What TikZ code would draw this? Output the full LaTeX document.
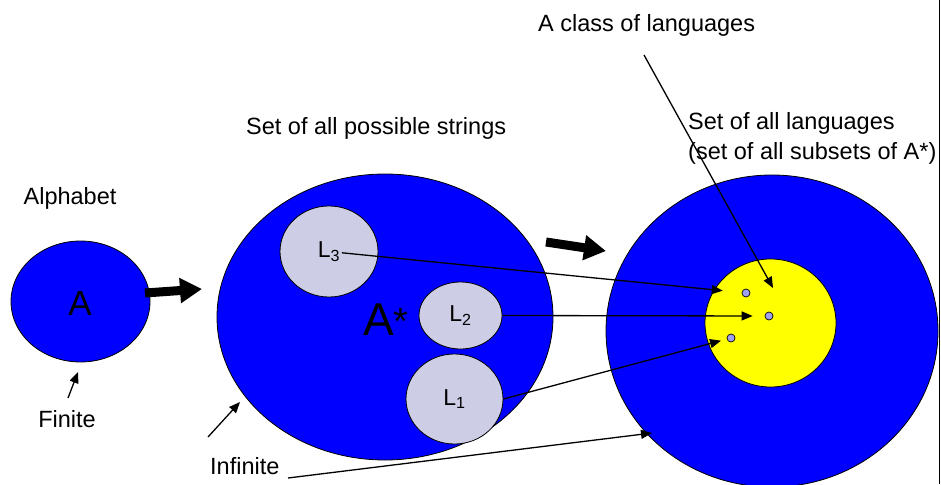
\documentclass[tikz,border=0pt]{standalone}
\usepackage{fontspec}
\setmainfont{Liberation Sans}
\usetikzlibrary{arrows.meta,shapes.geometric}
\definecolor{setblue}{HTML}{0000FF}
\definecolor{clsyel}{HTML}{FFFF00}
\definecolor{langfill}{HTML}{CDCDE6}
\definecolor{dotfill}{HTML}{A0A0F0}
\tikzset{
  blob/.style={ellipse, draw=black, line width=0.8pt, fill=setblue, inner sep=0pt},
  lang/.style={ellipse, draw=black, line width=0.8pt, fill=langfill, inner sep=0pt,
               font=\fontsize{23}{26}\selectfont},
  ldot/.style={circle, draw=black, line width=0.7pt, fill=dotfill, minimum size=8pt, inner sep=0pt},
  lbl/.style={font=\fontsize{23.5}{30}\selectfont, inner sep=0pt},
  ptr/.style={-{Triangle[length=11pt,width=9pt]}, line width=1.3pt},
  fat/.style={-{Triangle[length=22pt,width=24pt]}, line width=9pt},
}

\begin{document}
\begin{tikzpicture}[x=1pt, y=-1pt]
  \useasboundingbox (0,0) rectangle (941,484);
  % the three sets
  \node[blob, minimum width=139pt, minimum height=121pt] (alph) at (80.5,301.5) {};
  \node[blob, minimum width=336pt, minimum height=286pt] (strs) at (385,317) {};
  \node[blob, minimum width=332pt, minimum height=312pt] (langs) at (772,331) {};
  \node[ellipse, draw=black, line width=0.8pt, fill=clsyel, inner sep=0pt,
        minimum width=131pt, minimum height=128pt] (cls) at (770.5,323) {};
  \node[font=\fontsize{35}{35}\selectfont] (asym) at (80,303) {A};
  \node[font=\fontsize{46}{46}\selectfont] (astar) at (386,320) {A\raisebox{1pt}{\fontsize{38}{38}\selectfont*}};
  % languages inside A*
  \node[lang, minimum width=98pt, minimum height=91pt] (l3) at (329,251.5) {L\textsubscript{3}};
  \node[lang, minimum width=83pt, minimum height=67pt] (l2) at (460.5,315.5) {L\textsubscript{2}};
  \node[lang, minimum width=97pt, minimum height=90pt] (l1) at (454.5,399) {L\textsubscript{1}};
  \node[ldot] (d3) at (746,293) {};
  \node[ldot] (d2) at (769,316) {};
  \node[ldot] (d1) at (731,338) {};
  % labels
  \node[lbl] (alphl) at (70,198) {Alphabet};
  \node[lbl] (finl) at (67,419) {Finite};
  \node[lbl, anchor=base west] (strl) at (246,135) {Set of all possible strings};
  \node[lbl, anchor=west] (infl) at (210,466) {Infinite};
  \node[lbl, anchor=west] (clsl) at (538,25) {A class of languages};
  \node[lbl, anchor=west, align=left] (langl) at (688,138) {Set of all languages\\(set of all subsets of A*)};
  % free ends
  \coordinate (f1a) at (145,293);
  \coordinate (f1b) at (202,289);
  \coordinate (f2a) at (546,242);
  \coordinate (f2b) at (606,251);
  \coordinate (fin0) at (68,398);
  \coordinate (fin1) at (78,372);
  \coordinate (inf0) at (208,437);
  \coordinate (inf1) at (240,402);
  \coordinate (inf2) at (288,478);
  \coordinate (inf3) at (652,433);
  \coordinate (cls0) at (644,55);
  \coordinate (cls1) at (773,288);
  % connectors
  \draw[fat] (f1a) -- (f1b);
  \draw[fat] (f2a) -- (f2b);
  \draw[ptr, shorten <=13pt, shorten >=19pt] (l3.center) -- (d3);
  \draw[ptr, shorten >=12pt] (l2.east) -- (d2);
  \draw[ptr, shorten >=6pt] (l1.east) -- (d1);
  \draw[ptr] (cls0) -- (cls1);
  \draw[ptr] (fin0) -- (fin1);
  \draw[ptr] (inf0) -- (inf1);
  \draw[ptr] (inf2) -- (inf3);
  % page edge
  \draw[line width=1.5pt] (939.5,0) -- (939.5,484);
\end{tikzpicture}
\end{document}
